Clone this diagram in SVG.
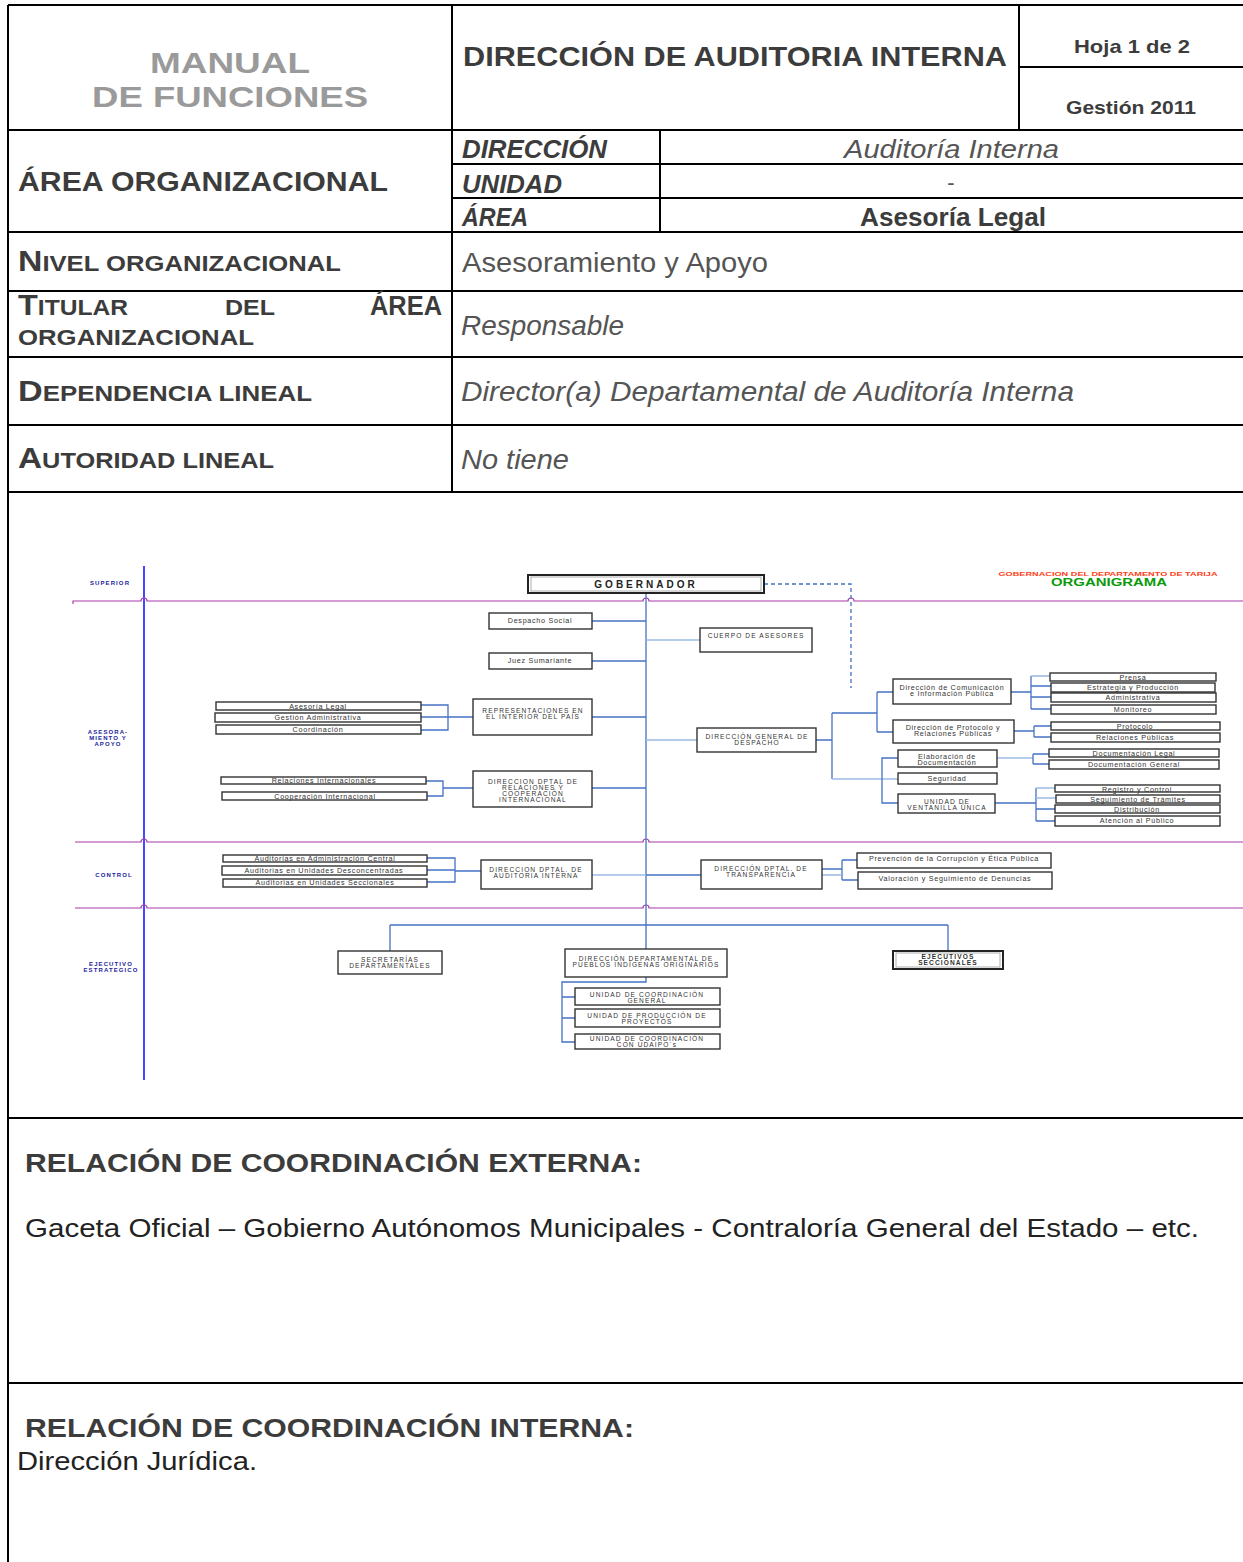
<svg xmlns="http://www.w3.org/2000/svg" width="1243" height="1562" viewBox="0 0 1243 1562">
<style>
text{font-family:"Liberation Sans",Arial,sans-serif}
.tl{stroke:#000;stroke-width:2;fill:none}
.hd{font-weight:bold;fill:#3c3c3c}
.bd{fill:#555}
.it{font-style:italic}
.bx{fill:#fff;stroke:#333;stroke-width:1.4}
.s{font-size:7.2px;letter-spacing:0.7px;fill:#333;text-anchor:middle}
.u{font-size:6.6px;letter-spacing:1.1px;fill:#333;text-anchor:middle}
.lv{font-size:6px;letter-spacing:1.1px;fill:#22229a;font-weight:bold;text-anchor:middle}
.c{stroke:#4472c4;stroke-width:1.3;fill:none}
.cl{stroke:#9dbbe3;stroke-width:1.6;fill:none}
.mg{stroke:#a83ca8;stroke-width:1.2;fill:none}
</style>

<g id="table">
<path class="tl" d="M8 5V1562M8 5H1243M8 130H1243M452 5V492M1019 5V130M1019 67H1243M660 130V232M452 164H1243M452 198H1243M8 232H1243M8 291H1243M8 357H1243M8 425H1243M8 492H1243M8 1118H1243M8 1383H1243"/>
<text x="150" y="73" font-size="30" font-weight="bold" fill="#9a9a9a" textLength="160" lengthAdjust="spacingAndGlyphs">MANUAL</text>
<text x="92" y="107" font-size="30" font-weight="bold" fill="#9a9a9a" textLength="276" lengthAdjust="spacingAndGlyphs">DE FUNCIONES</text>
<text class="hd" x="463" y="66" font-size="28" textLength="544" lengthAdjust="spacingAndGlyphs">DIRECCIÓN  DE AUDITORIA INTERNA</text>
<text class="hd" x="1074" y="53" font-size="19" textLength="116" lengthAdjust="spacingAndGlyphs">Hoja 1 de 2</text>
<text class="hd" x="1066" y="114" font-size="19" textLength="130" lengthAdjust="spacingAndGlyphs">Gestión 2011</text>

<text class="hd" x="18" y="191" font-size="27" textLength="370" lengthAdjust="spacingAndGlyphs">ÁREA ORGANIZACIONAL</text>
<text class="hd it" x="462" y="158" font-size="26" textLength="145" lengthAdjust="spacingAndGlyphs">DIRECCIÓN</text>
<text class="hd it" x="462" y="193" font-size="26" textLength="100" lengthAdjust="spacingAndGlyphs">UNIDAD</text>
<text class="hd it" x="462" y="226" font-size="26" textLength="66" lengthAdjust="spacingAndGlyphs">ÁREA</text>
<text class="bd it" x="844" y="158" font-size="26" textLength="215" lengthAdjust="spacingAndGlyphs">Auditoría Interna</text>
<text class="bd" x="951" y="190" font-size="22" text-anchor="middle">-</text>
<text class="hd" x="860" y="226" font-size="26" textLength="186" lengthAdjust="spacingAndGlyphs">Asesoría Legal</text>

<text class="hd" x="18" y="271" textLength="323" lengthAdjust="spacingAndGlyphs"><tspan font-size="29">N</tspan><tspan font-size="22">IVEL ORGANIZACIONAL</tspan></text>
<text class="bd" x="462" y="272" font-size="27" textLength="306" lengthAdjust="spacingAndGlyphs">Asesoramiento y Apoyo</text>

<text class="hd" x="18" y="315" textLength="110" lengthAdjust="spacingAndGlyphs"><tspan font-size="29">T</tspan><tspan font-size="22">ITULAR</tspan></text>
<text class="hd" x="225" y="315" font-size="22" textLength="50" lengthAdjust="spacingAndGlyphs">DEL</text>
<text class="hd" x="370" y="315" font-size="27" textLength="72" lengthAdjust="spacingAndGlyphs">ÁREA</text>
<text class="hd" x="18" y="345" font-size="22" textLength="236" lengthAdjust="spacingAndGlyphs">ORGANIZACIONAL</text>
<text class="bd it" x="461" y="335" font-size="27" textLength="163" lengthAdjust="spacingAndGlyphs">Responsable</text>

<text class="hd" x="18" y="401" textLength="294" lengthAdjust="spacingAndGlyphs"><tspan font-size="29">D</tspan><tspan font-size="22">EPENDENCIA LINEAL</tspan></text>
<text class="bd it" x="461" y="401" font-size="27" textLength="613" lengthAdjust="spacingAndGlyphs">Director(a) Departamental de Auditoría Interna</text>

<text class="hd" x="18" y="468" textLength="256" lengthAdjust="spacingAndGlyphs"><tspan font-size="29">A</tspan><tspan font-size="22">UTORIDAD LINEAL</tspan></text>
<text class="bd it" x="461" y="469" font-size="27" textLength="108" lengthAdjust="spacingAndGlyphs">No tiene</text>

<text class="hd" x="25" y="1172" font-size="26" textLength="617" lengthAdjust="spacingAndGlyphs">RELACIÓN DE COORDINACIÓN EXTERNA:</text>
<text x="25" y="1237" font-size="26" fill="#222" textLength="1174" lengthAdjust="spacingAndGlyphs">Gaceta Oficial – Gobierno Autónomos Municipales -  Contraloría General del Estado – etc.</text>
<text class="hd" x="25" y="1437" font-size="26" textLength="609" lengthAdjust="spacingAndGlyphs">RELACIÓN DE COORDINACIÓN INTERNA:</text>
<text x="17" y="1470" font-size="26" fill="#222" textLength="240" lengthAdjust="spacingAndGlyphs">Dirección Jurídica.</text>
</g>

<g id="chart-frame">
<path d="M144 566V1080" stroke="#1a1aff" stroke-width="1.6" fill="none"/>
<path class="mg" d="M73 604V601H141a3 3 0 0 1 6 0H643a3 3 0 0 1 6 0H848a3 3 0 0 1 6 0H1243"/>
<path class="mg" d="M75 842H141a3 3 0 0 1 6 0H643a3 3 0 0 1 6 0H1243"/>
<path class="mg" d="M75 908H141a3 3 0 0 1 6 0H643a3 3 0 0 1 6 0H1243"/>
<text class="lv" x="110" y="585">SUPERIOR</text>
<text class="lv" x="108" y="734">ASESORA-</text>
<text class="lv" x="108" y="740">MIENTO Y</text>
<text class="lv" x="108" y="746">APOYO</text>
<text class="lv" x="114" y="877">CONTROL</text>
<text class="lv" x="111" y="966">EJECUTIVO</text>
<text class="lv" x="111" y="972">ESTRATEGICO</text>
<text x="1108" y="576" font-size="5.5" font-weight="bold" fill="#ff4020" text-anchor="middle" textLength="219" lengthAdjust="spacingAndGlyphs">GOBERNACION DEL DEPARTAMENTO DE TARIJA</text>
<text x="1109" y="586" font-size="10" font-weight="bold" fill="#0a9a0a" text-anchor="middle" textLength="116" lengthAdjust="spacingAndGlyphs">ORGANIGRAMA</text>
</g>

<g id="connectors">
<path class="c" d="M646 593V950" stroke-width="2.2"/>
<path class="c" d="M764 584H851V688" stroke-dasharray="4 3"/>
<path class="c" d="M592 621H646M592 661H646M592 717H646M421 705H448V730H421M421 717H473"/>
<path class="cl" d="M646 640H700M646 740H697"/>
<path class="c" d="M816 740H832M832 713V779M832 713H877M877 692V732M877 692H893M877 732H893"/>
<path class="cl" d="M832 779H898"/>
<path class="c" d="M898 758H882V803H898"/>
<path class="c" d="M1011 692H1031M1031 676V709M1031 686H1051M1031 697H1051M1031 709H1051"/>
<path class="cl" d="M1031 676H1050"/>
<path class="c" d="M1014 731H1034M1034 726V737M1034 726H1051M1034 737H1051"/>
<path class="cl" d="M997 758H1033"/>
<path class="c" d="M1033 754V764M1033 754H1049M1033 764H1049"/>
<path class="c" d="M995 803H1036M1036 788V821M1036 809H1055M1036 821H1055"/>
<path class="cl" d="M1036 788H1055M1036 798H1056"/>
<path class="c" d="M646 788H592M473 788H443M426 781H443V796H427"/>
<path class="cl" d="M592 875H646"/>
<path class="c" d="M481 871H455M427 858H455V882H427M427 870H455"/>
<path class="c" d="M646 875H701M822 869H842M842 860V880M842 860H857M842 880H858"/>
<path class="cl" d="M822 875H842"/>
<path class="c" d="M390 925H948M390 925V951M948 925V951"/>
<path class="c" d="M646 977V982H562V1042H575M562 997H575M562 1018H575"/>
</g>

<g id="n-gobernador"><rect x="528" y="575" width="236" height="18" fill="#fff" stroke="#222" stroke-width="2"/><rect x="531" y="577" width="230" height="14" fill="none" stroke="#999" stroke-width="0.8"/><text x="646" y="588" font-size="10" font-weight="bold" letter-spacing="3" fill="#222" text-anchor="middle">GOBERNADOR</text></g>
<g id="n-despacho-social"><rect class="bx" x="489" y="613" width="103" height="16"/><text class="s" x="540" y="623">Despacho Social</text></g>
<g id="n-juez"><rect class="bx" x="489" y="653" width="103" height="16"/><text class="s" x="540" y="663">Juez Sumariante</text></g>
<g id="n-representaciones"><rect class="bx" x="473" y="699" width="119" height="36"/><text class="u" x="533" y="713">REPRESENTACIONES EN</text><text class="u" x="533" y="719">EL INTERIOR DEL PAÍS</text></g>
<g id="n-asesoria-legal"><rect class="bx" x="216" y="702" width="205" height="8"/><text class="s" x="318" y="709">Asesoría Legal</text></g>
<g id="n-gestion-adm"><rect class="bx" x="215" y="713" width="206" height="9"/><text class="s" x="318" y="720">Gestión Administrativa</text></g>
<g id="n-coordinacion"><rect class="bx" x="216" y="725" width="205" height="9"/><text class="s" x="318" y="732">Coordinación</text></g>
<g id="n-cuerpo-asesores"><rect class="bx" x="700" y="628" width="112" height="24"/><text class="u" x="756" y="638">CUERPO DE ASESORES</text></g>
<g id="n-dg-despacho"><rect class="bx" x="697" y="728" width="119" height="24"/><text class="u" x="757" y="739">DIRECCIÓN GENERAL DE</text><text class="u" x="757" y="745">DESPACHO</text></g>
<g id="n-comunicacion"><rect class="bx" x="893" y="679" width="118" height="25"/><text class="s" x="952" y="690">Dirección de Comunicación</text><text class="s" x="952" y="696">e Información Pública</text></g>
<g id="n-protocolo-dir"><rect class="bx" x="893" y="720" width="121" height="23"/><text class="s" x="953" y="730">Dirección de Protocolo y</text><text class="s" x="953" y="736">Relaciones Públicas</text></g>
<g id="n-elaboracion"><rect class="bx" x="898" y="750" width="99" height="17"/><text class="s" x="947" y="759">Elaboración de</text><text class="s" x="947" y="765">Documentación</text></g>
<g id="n-seguridad"><rect class="bx" x="898" y="773" width="99" height="11"/><text class="s" x="947" y="781">Seguridad</text></g>
<g id="n-ventanilla"><rect class="bx" x="898" y="794" width="97" height="19"/><text class="u" x="947" y="804">UNIDAD DE</text><text class="u" x="947" y="810">VENTANILLA ÚNICA</text></g>
<g id="n-prensa"><rect class="bx" x="1050" y="673" width="166" height="8"/><text class="s" x="1133" y="680">Prensa</text></g>
<g id="n-estrategia"><rect class="bx" x="1051" y="683" width="164" height="9"/><text class="s" x="1133" y="690">Estrategia y Producción</text></g>
<g id="n-administrativa"><rect class="bx" x="1051" y="693" width="165" height="9"/><text class="s" x="1133" y="700">Administrativa</text></g>
<g id="n-monitoreo"><rect class="bx" x="1051" y="705" width="165" height="9"/><text class="s" x="1133" y="712">Monitoreo</text></g>
<g id="n-protocolo"><rect class="bx" x="1051" y="722" width="169" height="8"/><text class="s" x="1135" y="729">Protocolo</text></g>
<g id="n-relaciones-publicas"><rect class="bx" x="1051" y="733" width="169" height="9"/><text class="s" x="1135" y="740">Relaciones Públicas</text></g>
<g id="n-doc-legal"><rect class="bx" x="1049" y="749" width="170" height="8"/><text class="s" x="1134" y="756">Documentación Legal</text></g>
<g id="n-doc-general"><rect class="bx" x="1049" y="760" width="170" height="9"/><text class="s" x="1134" y="767">Documentación General</text></g>
<g id="n-registro"><rect class="bx" x="1055" y="785" width="165" height="7"/><text class="s" x="1137" y="792">Registro y Control</text></g>
<g id="n-seguimiento"><rect class="bx" x="1056" y="795" width="164" height="8"/><text class="s" x="1138" y="802">Seguimiento de Trámites</text></g>
<g id="n-distribucion"><rect class="bx" x="1055" y="805" width="165" height="8"/><text class="s" x="1137" y="812">Distribución</text></g>
<g id="n-atencion"><rect class="bx" x="1055" y="816" width="165" height="10"/><text class="s" x="1137" y="823">Atención al Público</text></g>
<g id="n-rel-internacionales"><rect class="bx" x="221" y="777" width="205" height="7"/><text class="s" x="324" y="783">Relaciones Internacionales</text></g>
<g id="n-cooperacion"><rect class="bx" x="222" y="792" width="205" height="8"/><text class="s" x="325" y="799">Cooperación Internacional</text></g>
<g id="n-dir-relaciones"><rect class="bx" x="473" y="771" width="119" height="36"/><text class="u" x="533" y="784">DIRECCION DPTAL DE</text><text class="u" x="533" y="790">RELACIONES Y</text><text class="u" x="533" y="796">COOPERACIÓN</text><text class="u" x="533" y="802">INTERNACIONAL</text></g>
<g id="n-aud-central"><rect class="bx" x="223" y="855" width="204" height="7"/><text class="s" x="325" y="861">Auditorias en Administración Central</text></g>
<g id="n-aud-desconc"><rect class="bx" x="222" y="866" width="205" height="9"/><text class="s" x="324" y="873">Auditorias en Unidades Desconcentradas</text></g>
<g id="n-aud-seccionales"><rect class="bx" x="223" y="879" width="204" height="8"/><text class="s" x="325" y="885">Auditorias en Unidades Seccionales</text></g>
<g id="n-dir-auditoria"><rect class="bx" x="481" y="860" width="111" height="29"/><text class="u" x="536" y="872">DIRECCION DPTAL. DE</text><text class="u" x="536" y="878">AUDITORIA INTERNA</text></g>
<g id="n-dir-transparencia"><rect class="bx" x="701" y="860" width="121" height="29"/><text class="u" x="761" y="871">DIRECCIÓN DPTAL. DE</text><text class="u" x="761" y="877">TRANSPARENCIA</text></g>
<g id="n-prevencion"><rect class="bx" x="857" y="853" width="194" height="15"/><text class="s" x="954" y="861">Prevención de la Corrupción y Ética Pública</text></g>
<g id="n-valoracion"><rect class="bx" x="858" y="872" width="194" height="17"/><text class="s" x="955" y="881">Valoración y Seguimiento de Denuncias</text></g>
<g id="n-secretarias"><rect class="bx" x="338" y="951" width="104" height="23"/><text class="u" x="390" y="962">SECRETARÍAS</text><text class="u" x="390" y="968">DEPARTAMENTALES</text></g>
<g id="n-pueblos"><rect class="bx" x="565" y="949" width="162" height="28"/><text class="u" x="646" y="961">DIRECCIÓN DEPARTAMENTAL DE</text><text class="u" x="646" y="967">PUEBLOS INDÍGENAS ORIGINARIOS</text></g>
<g id="n-ejecutivos"><rect x="893" y="951" width="110" height="18" fill="#fff" stroke="#222" stroke-width="2"/><rect x="896" y="953" width="104" height="14" fill="none" stroke="#999" stroke-width="0.8"/><text class="u" x="948" y="959" font-weight="bold" fill="#222">EJECUTIVOS</text><text class="u" x="948" y="965" font-weight="bold" fill="#222">SECCIONALES</text></g>
<g id="n-coord-general"><rect class="bx" x="575" y="988" width="145" height="17"/><text class="u" x="647" y="997">UNIDAD DE COORDINACIÓN</text><text class="u" x="647" y="1003">GENERAL</text></g>
<g id="n-produccion"><rect class="bx" x="575" y="1009" width="145" height="18"/><text class="u" x="647" y="1018">UNIDAD DE PRODUCCIÓN DE</text><text class="u" x="647" y="1024">PROYECTOS</text></g>
<g id="n-udaipos"><rect class="bx" x="575" y="1034" width="145" height="15"/><text class="u" x="647" y="1041">UNIDAD DE COORDINACIÓN</text><text class="u" x="647" y="1047">CON UDAIPO´s</text></g>
</svg>
